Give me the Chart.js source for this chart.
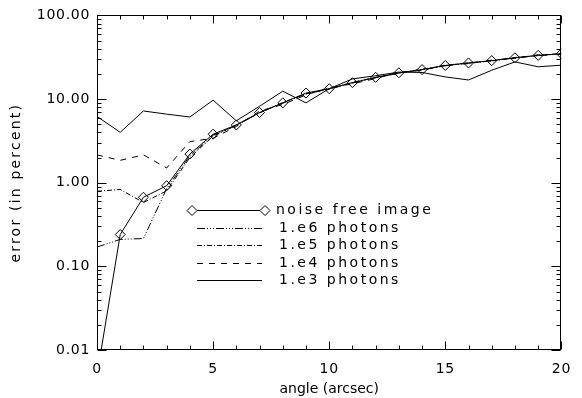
<!DOCTYPE html>
<html>
<head>
<meta charset="utf-8">
<script src="https://cdn.jsdelivr.net/npm/chart.js@4/dist/chart.umd.min.js"></script>
<style>
  html, body { margin: 0; padding: 0; background: #fff; }
</style>
</head>
<body>
<canvas id="myChart" width="582" height="398"></canvas>
<script>
// angle in arcsec
var angles = [0, 1, 2, 3, 4, 5, 6, 7, 8, 9, 10, 11, 12, 13, 14, 15, 16, 17, 18, 19, 20];

// error in percent
var noiseFree = [0.005, 0.24, 0.67, 0.92, 2.2, 3.8, 4.9, 6.9, 9.0, 11.8, 13.3, 15.7, 18.2, 20.6, 22.5, 25.2, 27.0, 28.8, 31.2, 33.3, 34.8];
var photons1e6 = [0.17, 0.21, 0.215, 0.85, 2.1, 3.7, 4.8, 6.9, 8.9, 11.6, 13.2, 15.5, 18.0, 20.4, 22.3, 25.0, 26.8, 28.6, 31.0, 33.1, 34.6];
var photons1e5 = [0.79, 0.83, 0.58, 0.8, 2.0, 3.6, 4.9, 6.8, 9.1, 11.5, 13.1, 15.9, 18.0, 20.3, 22.8, 25.0, 27.2, 28.5, 31.4, 33.0, 35.2];
var photons1e4 = [2.15, 1.85, 2.15, 1.5, 3.1, 3.4, 4.7, 7.2, 8.6, 11.2, 13.6, 15.2, 17.6, 20.9, 22.0, 25.6, 26.5, 29.2, 30.6, 33.9, 34.2];
var photons1e3 = [6.2, 4.0, 7.2, 6.6, 6.1, 9.7, 5.5, 8.2, 12.4, 9.0, 13.3, 17.4, 19.0, 21.0, 20.8, 18.4, 16.9, 22.1, 27.8, 24.3, 25.4];

var yTicks = [0.01, 0.1, 1, 10, 100];
var xTicks = [0, 5, 10, 15, 20];

var FONT = 'DejaVu Sans';

function pts(arr) {
    return angles.map(function (a, i) { return { x: a, y: arr[i] }; });
}

// box round the plot with IDL style inward ticks
var frame = {
    id: 'frame',
    afterDatasetsDraw: function (chart) {
        var ctx = chart.ctx, a = chart.chartArea, x = chart.scales.x, y = chart.scales.y;
        ctx.save();
        ctx.strokeStyle = '#000';
        ctx.lineWidth = 1;
        var l = Math.round(a.left) + 0.5, r = Math.round(a.right) - 0.5;
        var t = Math.round(a.top) + 0.5, b = Math.round(a.bottom) - 0.5;
        ctx.strokeRect(l, t, r - l, b - t);
        ctx.beginPath();
        for (var v = 0; v <= 20; v++) {
            var px = Math.round(x.getPixelForValue(v)) + 0.5;
            var len = v % 5 === 0 ? 8 : 4;
            ctx.moveTo(px, b); ctx.lineTo(px, b - len);
            ctx.moveTo(px, t); ctx.lineTo(px, t + len);
        }
        for (var d = 0; d < yTicks.length; d++) {
            for (var k = 1; k <= 9; k++) {
                var val = yTicks[d] * k;
                if (val > 100.0001) break;
                var py = Math.round(y.getPixelForValue(val)) + 0.5;
                var ln = k === 1 ? 9 : 4;
                ctx.moveTo(l, py); ctx.lineTo(l + ln, py);
                ctx.moveTo(r, py); ctx.lineTo(r - ln, py);
            }
        }
        ctx.stroke();
        ctx.restore();
    }
};

// legend inside the plot, drawn from the dataset styles
var boxLegend = {
    id: 'boxLegend',
    afterDraw: function (chart) {
        var ctx = chart.ctx;
        ctx.save();
        ctx.font = '14px "' + FONT + '"';
        ctx.letterSpacing = '2.5px';
        ctx.fillStyle = '#000';
        ctx.textBaseline = 'middle';
        chart.data.datasets.forEach(function (ds, i) {
            var yy = Math.round(210 + i * 17.5) + 0.5;
            var x0 = i === 0 ? 192 : 197, x1 = i === 0 ? 265 : 262;
            ctx.strokeStyle = '#000';
            ctx.lineWidth = 1;
            ctx.setLineDash(ds.borderDash || []);
            ctx.beginPath();
            ctx.moveTo(x0 + (i === 0 ? 5 : 0), yy);
            ctx.lineTo(x1 - (i === 0 ? 5 : 0), yy);
            ctx.stroke();
            ctx.setLineDash([]);
            if (ds.pointRadius > 0) {
                [x0, x1].forEach(function (cx) {
                    ctx.beginPath();
                    ctx.moveTo(cx - 5, yy); ctx.lineTo(cx, yy - 5);
                    ctx.lineTo(cx + 5, yy); ctx.lineTo(cx, yy + 5);
                    ctx.closePath();
                    ctx.stroke();
                });
            }
            ctx.fillText(ds.label, i === 0 ? 276 : 279, yy);
        });
        ctx.restore();
    }
};

// wider letter spacing, like the old vector font
var titleSpacing = { x: '0px', y: '2.2px' };
var spacing = {
    id: 'spacing',
    beforeUpdate: function (chart) { chart.ctx.letterSpacing = '0.7px'; },
    beforeDraw: function (chart) {
        chart.ctx.letterSpacing = '0.7px';
        ['x', 'y'].forEach(function (id) {
            var s = chart.scales[id];
            if (s._wrapped) return;
            var orig = s.drawTitle;
            s.drawTitle = function () {
                var old = this.ctx.letterSpacing;
                this.ctx.letterSpacing = titleSpacing[id];
                orig.apply(this, arguments);
                this.ctx.letterSpacing = old;
            };
            s._wrapped = true;
        });
    }
};

var ctx = document.getElementById('myChart').getContext('2d');
var chart = new Chart(ctx, {
    type: 'line',
    data: {
        datasets: [{
            label: 'noise free image',
            data: pts(noiseFree),
            borderColor: '#000',
            backgroundColor: 'rgba(0,0,0,0)',
            borderWidth: 1,
            pointStyle: 'rectRot',
            pointRadius: 5,
            pointBorderWidth: 1
        }, {
            label: '1.e6 photons',
            data: pts(photons1e6),
            borderColor: '#000',
            borderWidth: 1,
            borderDash: [8, 2, 1, 2, 1, 2, 1, 2],
            pointRadius: 0
        }, {
            label: '1.e5 photons',
            data: pts(photons1e5),
            borderColor: '#000',
            borderWidth: 1,
            borderDash: [5, 2, 1, 2],
            pointRadius: 0
        }, {
            label: '1.e4 photons',
            data: pts(photons1e4),
            borderColor: '#000',
            borderWidth: 1,
            borderDash: [6, 6],
            pointRadius: 0
        }, {
            label: '1.e3 photons',
            data: pts(photons1e3),
            borderColor: '#000',
            borderWidth: 1,
            pointRadius: 0
        }]
    },
    options: {
        responsive: false,
        animation: false,
        events: [],
        layout: { padding: { left: 0, top: 13, right: 9, bottom: 0 } },
        plugins: {
            legend: { display: false },
            tooltip: { enabled: false }
        },
        scales: {
            x: {
                type: 'linear',
                min: 0,
                max: 20,
                afterBuildTicks: function (s) { s.ticks = xTicks.map(function (v) { return { value: v }; }); },
                afterFit: function (s) { s.height = 48; },
                grid: { display: false, drawTicks: false },
                border: { display: false },
                ticks: { color: '#000', padding: 11, maxRotation: 0, font: { family: FONT, size: 14 } },
                title: { display: true, text: 'angle (arcsec)', color: '#000', font: { family: FONT, size: 14 }, padding: { top: 0, bottom: 0 } }
            },
            y: {
                type: 'logarithmic',
                min: 0.01,
                max: 100,
                afterBuildTicks: function (s) { s.ticks = yTicks.map(function (v) { return { value: v }; }); },
                afterFit: function (s) { s.width = 97; },
                grid: { display: false, drawTicks: false },
                border: { display: false },
                ticks: {
                    color: '#000', padding: 7, font: { family: FONT, size: 14 },
                    callback: function (v) { return Number(v).toFixed(2); }
                },
                title: { display: true, text: 'error (in percent)', color: '#000', font: { family: FONT, size: 14 }, padding: { top: 8, bottom: 0 } }
            }
        }
    },
    plugins: [spacing, frame, boxLegend]
});
</script>
</body>
</html>
